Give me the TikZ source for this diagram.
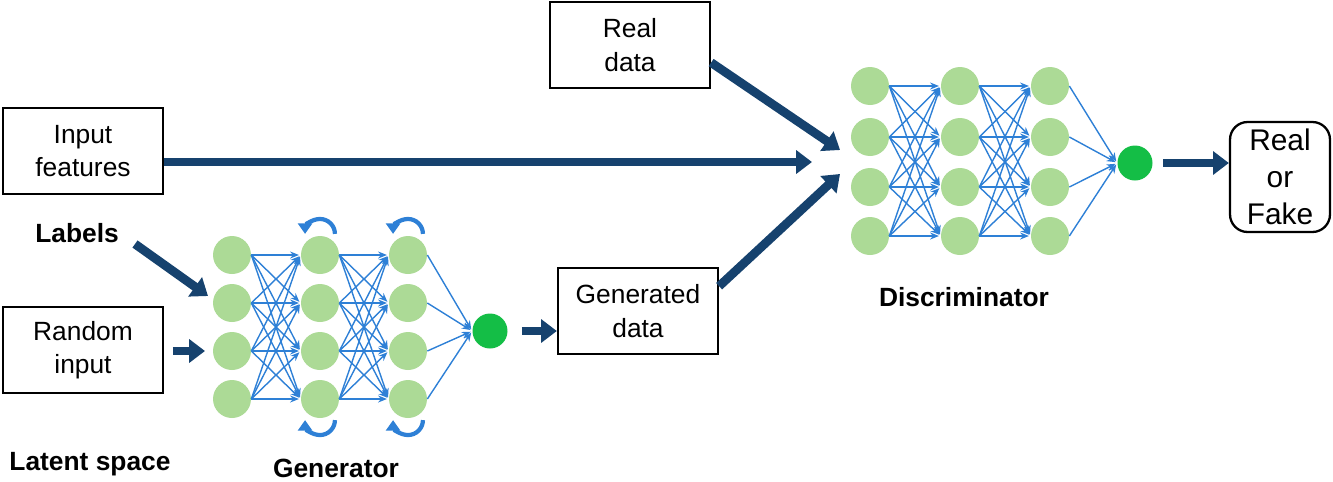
\documentclass[tikz,border=0pt]{standalone}
\usepackage{fontspec}
\setmainfont{Liberation Sans}
\usetikzlibrary{arrows.meta}
\definecolor{navy}{RGB}{22,66,110}
\definecolor{wire}{RGB}{46,128,214}
\definecolor{cell}{RGB}{172,218,150}
\definecolor{outcell}{RGB}{20,190,70}
\begin{document}
\begin{tikzpicture}[x=0.02cm, y=-0.02cm]

% styles
\tikzstyle{box}=[draw, line width=1.3pt, minimum width=3.2cm, minimum height=1.72cm, align=center, font=\fontsize{15}{19}\selectfont]
\tikzstyle{tag}=[font=\fontsize{15}{19}\selectfont\bfseries]
\tikzstyle{neuron}=[circle, fill=cell, minimum size=0.76cm, inner sep=0pt]
\tikzstyle{outNeuron}=[circle, fill=outcell, minimum size=0.7cm, inner sep=0pt]
\tikzstyle{link}=[-{Stealth[length=5pt,width=4pt]}, wire, line width=0.8pt, shorten >=1pt]
\tikzstyle{flow}=[-{Triangle[length=9pt,width=13pt]}, navy, line width=5pt]
\tikzstyle{loop}=[-{Triangle[length=6pt,width=8pt]}, wire, line width=2.4pt]

\useasboundingbox (0,0) rectangle (1333,481);

% boxes
\node[box] (feat) at (83,151) {Input\\features};
\node[box] (rand) at (83,350) {Random\\input};
\node[box] (real) at (630,45) {Real\\data};
\node[box] (gen) at (638,311) {Generated\\data};
\node[box, rounded corners=10pt, minimum width=2cm, minimum height=2.2cm, font=\fontsize{17}{21}\selectfont] (verdict) at (1280,177) {Real\\or\\Fake};

% labels
\node[tag] (lab) at (77,233) {Labels};
\node[tag] (lat) at (90,464) {Latent space};
\node[tag] (gname) at (336,468) {Generator};
\node[tag] (dname) at (964,297) {Discriminator};

% generator
\foreach \c/\x in {1/232,2/320,3/408}
  \foreach \r/\y in {1/255,2/303,3/351,4/399}
    \node[neuron] (g\c\r) at (\x,\y) {};
\node[outNeuron] (gout) at (490,331) {};
\foreach \i in {1,...,4}
  \foreach \j in {1,...,4} {
    \draw[link] (g1\i.east) -- (g2\j.west);
    \draw[link] (g2\i.east) -- (g3\j.west);
  }
\foreach \i in {1,...,4}
  \draw[link] (g3\i.east) -- (gout.west);
\foreach \c in {2,3} {
  \draw[loop] ([xshift=8.5pt,yshift=1pt]g\c1.north) arc (0:180:8.5pt);
  \draw[loop] ([xshift=8.5pt,yshift=-1pt]g\c4.south) arc (360:180:8.5pt);
}

% discriminator
\foreach \c/\x in {1/870,2/960,3/1050}
  \foreach \r/\y in {1/86,2/137,3/187,4/236}
    \node[neuron] (d\c\r) at (\x,\y) {};
\node[outNeuron] (dout) at (1135,163) {};
\foreach \i in {1,...,4}
  \foreach \j in {1,...,4} {
    \draw[link] (d1\i.east) -- (d2\j.west);
    \draw[link] (d2\i.east) -- (d3\j.west);
  }
\foreach \i in {1,...,4}
  \draw[link] (d3\i.east) -- (dout.west);

% data flow
\coordinate (dinA) at (812,162);
\coordinate (dinB) at (840,150);
\coordinate (dinC) at (840,174);
\coordinate (ginA) at (208,296);
\coordinate (ginB) at (205,351);
\coordinate (labOut) at (135,244);
\draw[flow] (feat.east |- dinA) -- (dinA);
\draw[flow] ([yshift=-10pt]real.east) -- (dinB);
\draw[flow] ([yshift=-11pt]gen.north east) -- (dinC);
\draw[flow] (labOut) -- (ginA);
\draw[flow] ([xshift=5pt]rand.east |- ginB) -- (ginB);
\draw[flow] ([xshift=8pt]gout.east) -- (gen.west |- gout);
\draw[flow] ([xshift=6pt]dout.east) -- (verdict.west |- dout);

\end{tikzpicture}
\end{document}
